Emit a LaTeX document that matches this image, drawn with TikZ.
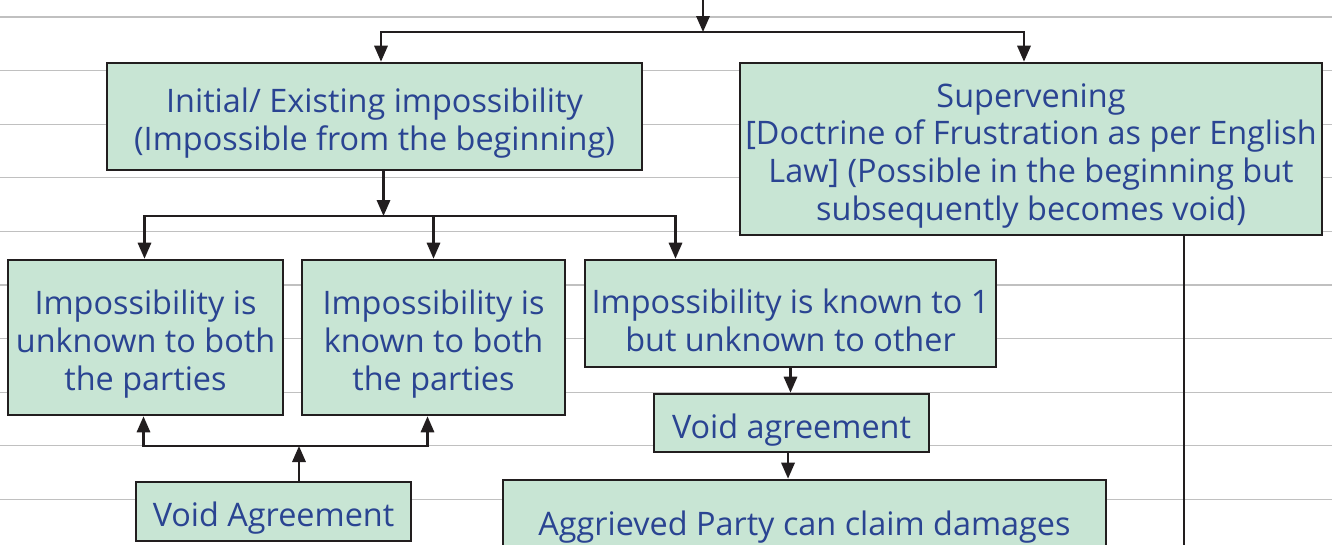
\documentclass[tikz,border=0pt]{standalone}
\usepackage{fontspec}
\setmainfont{Open Sans}
\usetikzlibrary{arrows.meta}
\definecolor{boxfill}{RGB}{200,229,212}
\definecolor{boxtext}{RGB}{42,68,146}
\definecolor{rulegray}{RGB}{192,192,192}
\definecolor{edgedark}{RGB}{34,30,31}
\begin{document}
\begin{tikzpicture}[x=0.75pt,y=-0.75pt,
  box/.style={draw=edgedark, line width=2pt, fill=boxfill, inner sep=0pt},
  boxtxt/.style={text=boxtext, align=center, inner sep=0pt, yshift=-5pt,
    font=\fontsize{24.3}{28.2}\selectfont},
  link/.style={draw=edgedark, line width=1.7pt, line cap=rect},
  arr/.style={link, -{Triangle[length=12pt,width=10pt]}}]
\useasboundingbox (0,0) rectangle (1332,544);
\clip (0,0) rectangle (1332,544);
\fill[white] (0,0) rectangle (1332,544);
% ruled background
\foreach \k in {0,...,9}
  \draw[rulegray, line width=0.8pt] (0,{17+53.6*\k}) -- (1332,{17+53.6*\k});

% boxes, each with its text as a centred label
\node[box, minimum width=401.25pt, minimum height=80.25pt,
  label={[boxtxt]center:{Initial/ Existing impossibility\\(Impossible from the beginning)}}]
  (init) at (374.5,116.5) {};
\node[box, minimum width=436.5pt, minimum height=129pt,
  label={[boxtxt]center:{Supervening\\{}[Doctrine of Frustration as per English\\Law] (Possible in the beginning but\\subsequently becomes void)}}]
  (super) at (1031,149) {};
\node[box, minimum width=206.25pt, minimum height=116.25pt,
  label={[boxtxt]center:{Impossibility is\\unknown to both\\the parties}}]
  (unk) at (145.5,337.5) {};
\node[box, minimum width=197.25pt, minimum height=116.25pt,
  label={[boxtxt]center:{Impossibility is\\known to both\\the parties}}]
  (kn) at (433.5,337.5) {};
\node[box, minimum width=308.25pt, minimum height=80.25pt,
  label={[boxtxt]center:{Impossibility is known to 1\\but unknown to other}}]
  (kn1) at (790.5,313.5) {};
\node[box, minimum width=206.25pt, minimum height=43.5pt,
  label={[boxtxt]center:{Void agreement}}]
  (void1) at (791.5,423) {};
\node[box, minimum width=452.25pt, minimum height=60pt,
  label={[boxtxt]center:{Aggrieved Party can claim damages}}]
  (aggr) at (804.5,520) {};
\node[box, minimum width=206.25pt, minimum height=44.25pt,
  label={[boxtxt]center:{Void Agreement}}]
  (voidA) at (273.5,511.5) {};

% top split
\coordinate (topin) at (703,-10);
\coordinate (split1) at (703,32);
\coordinate (s1L) at (381,32);
\coordinate (s1R) at (1024,32);
\draw[arr] (topin) -- (split1);
\draw[link] (s1L) -- (s1R);
\draw[arr] (s1L) -- (s1L |- init.north);
\draw[arr] (s1R) -- (s1R |- super.north);

% split under the initial impossibility
\coordinate (split2) at (383.5,216);
\coordinate (s2L) at (144.5,216);
\coordinate (s2M) at (433.5,216);
\coordinate (s2R) at (675.5,216);
\draw[arr] (split2 |- init.south) -- (split2);
\draw[link] (s2L) -- (s2R);
\draw[arr] (s2L) -- (s2L |- unk.north);
\draw[arr] (s2M) -- (s2M |- kn.north);
\draw[arr] (s2R) -- (s2R |- kn1.north);

% right-hand chain
\draw[arr] (kn1.south) -- (kn1.south |- void1.north);
\draw[arr] ([xshift=-2.6pt]void1.south) -- ([xshift=-2.6pt]void1.south |- aggr.north);

% void agreement feeding both left boxes
\coordinate (s3) at (299,446);
\coordinate (s3L) at (143.5,446);
\coordinate (s3R) at (427.5,446);
\draw[arr] (s3 |- voidA.north) -- (s3);
\draw[link] (s3L) -- (s3R);
\draw[arr] (s3L) -- (s3L |- unk.south);
\draw[arr] (s3R) -- (s3R |- kn.south);

% supervening continues downwards
\coordinate (sdown) at (1184,560);
\draw[link] (sdown |- super.south) -- (sdown);
\end{tikzpicture}
\end{document}
